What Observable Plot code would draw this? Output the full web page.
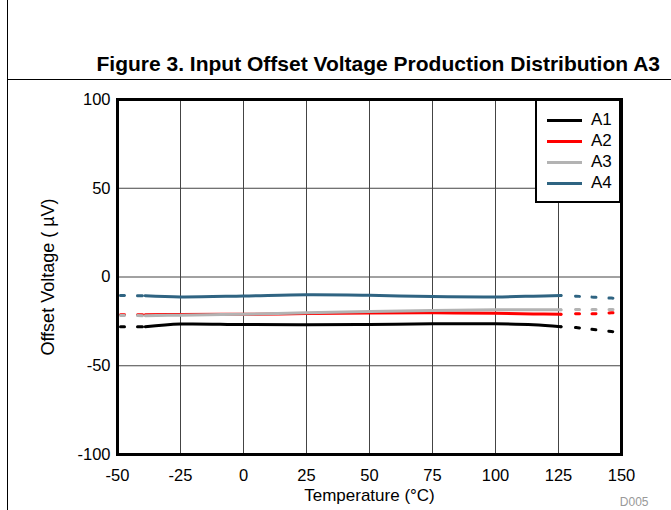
<!DOCTYPE html>
<html><head><meta charset="utf-8">
<script src="https://cdn.jsdelivr.net/npm/d3@7"></script>
<script src="https://cdn.jsdelivr.net/npm/@observablehq/plot@0.6"></script>
<style>
body{margin:0;background:#fff;font-family:"Liberation Sans",Arial,sans-serif;}
#wrap{position:relative;width:671px;height:510px;overflow:hidden;background:#fff;}
#vline{position:absolute;left:7px;top:0;width:1px;height:510px;background:#000;}
#hline{position:absolute;left:7px;top:79px;width:664px;height:1px;background:#000;}
#title{position:absolute;right:11px;top:53px;font-weight:bold;font-size:21px;line-height:21px;white-space:nowrap;color:#000;}
#chart{position:absolute;left:0;top:80px;}
#legend{position:absolute;left:535px;top:99px;width:82px;height:100px;border:2px solid #000;background:#fff;box-sizing:content-box;}
.item{position:absolute;left:8px;height:20px;}
.sw{position:absolute;left:2px;top:9px;width:35px;height:3px;}
.lb{position:absolute;left:46px;top:0;font-size:17px;line-height:20px;color:#000;}
</style></head>
<body>
<div id="wrap">
  <div id="vline"></div>
  <div id="hline"></div>
  <div id="title">Figure 3. Input Offset Voltage Production Distribution A3</div>
  <div id="chart"></div>
  <div id="legend"></div>
</div>
<script>
const series = ["A1", "A2", "A3", "A4"];
const colors = ["#000000", "#ff0000", "#b3b3b3", "#2f6482"];
const xTicks = [-50, -25, 0, 25, 50, 75, 100, 125, 150];
const yTicks = [-100, -50, 0, 50, 100];
const yGrid = [-50, 0, 50];

// measured range (solid)
const tempSolid = [-39, -25, 0, 25, 50, 75, 100, 115, 126];
const a1Solid = [-28, -26.5, -26.8, -26.9, -26.7, -26.4, -26.4, -26.9, -28];
const a2Solid = [-21.2, -21.1, -21, -20.6, -20.3, -20.2, -20.4, -20.8, -21];
const a3Solid = [-21.8, -21.5, -21, -20.2, -19.5, -18.9, -18.5, -18.5, -18.5];
const a4Solid = [-10.6, -11.2, -10.7, -10.0, -10.3, -11.0, -11.2, -10.8, -10.4];

// extrapolated (dotted) ends
const tempLeft = [-50, -39];
const a1Left = [-28, -28];
const a2Left = [-21.3, -21.2];
const a3Left = [-21.6, -21.8];
const a4Left = [-10.4, -10.6];

const tempRight = [126, 132, 139, 146, 150];
const a1Right = [-28, -28.5, -29.6, -30.7, -31.3];
const a2Right = [-21, -20.7, -20.7, -20.2, -20];
const a3Right = [-18.5, -18.3, -18.3, -18.3, -18.3];
const a4Right = [-10.4, -10.8, -11.4, -11.9, -12.2];

const xLabel = "Temperature (°C)";
const yLabel = "Offset Voltage ( µV)";
const code = "D005";

function table(xs, ys) {
  const out = [];
  ys.forEach((vals, i) => xs.forEach((t, j) => out.push({t, v: vals[j], s: series[i]})));
  return out;
}
const solid = table(tempSolid, [a1Solid, a2Solid, a3Solid, a4Solid]);
const left = table(tempLeft, [a1Left, a2Left, a3Left, a4Left]);
const right = table(tempRight, [a1Right, a2Right, a3Right, a4Right]);

const fmt = d => String(d);

const chart = Plot.plot({
  width: 671, height: 430,
  marginLeft: 117, marginRight: 50, marginTop: 19, marginBottom: 56,
  style: {fontFamily: '"Liberation Sans", Arial, sans-serif', fontSize: "16px", color: "#000", background: "transparent", overflow: "visible"},
  x: {domain: [-50, 150]},
  y: {domain: [-100, 100]},
  color: {domain: series, range: colors},
  marks: [
    Plot.gridX(xTicks, {stroke: "#444", strokeOpacity: 1, strokeWidth: 1}),
    Plot.gridY(yGrid, {stroke: "#444", strokeOpacity: 1, strokeWidth: 1}),
    Plot.axisX(xTicks, {tickSize: 0, tickPadding: 15, fontSize: 16.5, label: null, tickFormat: fmt}),
    Plot.axisY(yTicks, {tickSize: 0, tickPadding: 7, fontSize: 16.5, label: null, tickFormat: fmt}),
    Plot.line(solid, {x: "t", y: "v", z: "s", stroke: "s", strokeWidth: 3, curve: "catmull-rom"}),
    Plot.line(left, {x: "t", y: "v", z: "s", stroke: "s", strokeWidth: 3, strokeDasharray: "0,3,4,13,5,100"}),
    Plot.line(right, {x: "t", y: "v", z: "s", stroke: "s", strokeWidth: 3, strokeDasharray: "0,14.5,4,12.5,4,13,4,100"}),
    Plot.frame({stroke: "#000", strokeWidth: 3}),
    Plot.text([xLabel], {text: d => d, frameAnchor: "bottom", lineAnchor: "middle", textAnchor: "middle", dy: 41, fontSize: 17}),
    Plot.text([yLabel], {text: d => d, frameAnchor: "left", lineAnchor: "middle", textAnchor: "middle", rotate: -90, dx: -69, fontSize: 18}),
    Plot.text([code], {text: d => d, frameAnchor: "bottom-right", lineAnchor: "middle", textAnchor: "end", dx: 27, dy: 48, fontSize: 12, fill: "#999"})
  ]
});
document.getElementById("chart").appendChild(chart);

const legend = document.getElementById("legend");
series.forEach((s, i) => {
  const it = document.createElement("div");
  it.className = "item";
  it.style.top = (9 + i * 21) + "px";
  it.innerHTML = `<div class="sw" style="background:${colors[i]}"></div><div class="lb">${s}</div>`;
  legend.appendChild(it);
});
</script>
</body></html>
